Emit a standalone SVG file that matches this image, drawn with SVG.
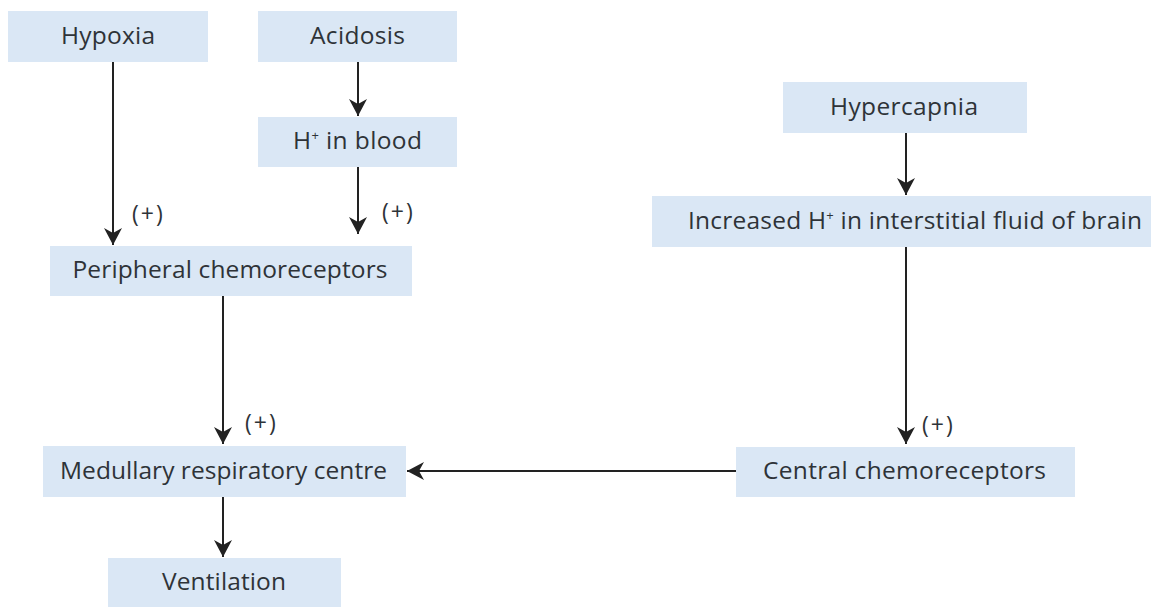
<svg xmlns="http://www.w3.org/2000/svg" width="1151" height="607" viewBox="0 0 1151 607">
  <style>
    .box { fill: #dae7f5; }
    .lbl { font-family: "Open Sans", "Noto Sans", sans-serif; font-size: 24.5px; fill: #2e3338; text-anchor: middle; }
    .sup { font-size: 13px; }
    .sign { font-family: "Open Sans", "Noto Sans", sans-serif; font-size: 23px; fill: #2e3338; letter-spacing: 2px; }
    .edge { stroke: #222; stroke-width: 2; fill: none; marker-end: url(#arrow); }
  </style>
  <defs>
    <marker id="arrow" markerUnits="userSpaceOnUse" markerWidth="18" markerHeight="18" refX="17" refY="9" orient="auto">
      <path d="M0,0 L17,9 L0,18 L5,9 Z" fill="#222"/>
    </marker>
  </defs>

  <rect width="1151" height="607" fill="#ffffff"/>

  <g id="connectors">
    <line class="edge" x1="113" y1="62" x2="113" y2="245"/>
    <line class="edge" x1="358" y1="62" x2="358" y2="116"/>
    <line class="edge" x1="358" y1="167" x2="358" y2="234"/>
    <line class="edge" x1="906" y1="133" x2="906" y2="195"/>
    <line class="edge" x1="906" y1="247" x2="906" y2="444"/>
    <line class="edge" x1="223" y1="296" x2="223" y2="444"/>
    <line class="edge" x1="223" y1="497" x2="223" y2="557"/>
    <line class="edge" x1="736" y1="471" x2="407" y2="471"/>
    <text class="sign" x="132" y="222">(+)</text>
    <text class="sign" x="382" y="220">(+)</text>
    <text class="sign" x="245" y="431">(+)</text>
    <text class="sign" x="922" y="433">(+)</text>
  </g>

  <g id="hypoxia">
    <rect class="box" x="8" y="11" width="200" height="51"/>
    <text class="lbl" x="108" y="44" textLength="94">Hypoxia</text>
  </g>
  <g id="acidosis">
    <rect class="box" x="258" y="11" width="199" height="51"/>
    <text class="lbl" x="357.5" y="44" textLength="95">Acidosis</text>
  </g>
  <g id="h-blood">
    <rect class="box" x="258" y="117" width="199" height="50"/>
    <text class="lbl" x="357.5" y="149" textLength="129">H<tspan class="sup" dy="-9">+</tspan><tspan dy="9"> in blood</tspan></text>
  </g>
  <g id="peripheral">
    <rect class="box" x="50" y="246" width="362" height="50"/>
    <text class="lbl" x="230" y="278" textLength="315">Peripheral chemoreceptors</text>
  </g>
  <g id="hypercapnia">
    <rect class="box" x="783" y="82" width="244" height="51"/>
    <text class="lbl" x="904" y="115" textLength="148">Hypercapnia</text>
  </g>
  <g id="brain-h">
    <rect class="box" x="652" y="196" width="499" height="51"/>
    <text class="lbl" x="915" y="229" textLength="454">Increased H<tspan class="sup" dy="-9">+</tspan><tspan dy="9"> in interstitial fluid of brain</tspan></text>
  </g>
  <g id="central">
    <rect class="box" x="736" y="447" width="339" height="50"/>
    <text class="lbl" x="904.5" y="479" textLength="283">Central chemoreceptors</text>
  </g>
  <g id="medullary">
    <rect class="box" x="43" y="446" width="363" height="51"/>
    <text class="lbl" x="223.5" y="479" textLength="327">Medullary respiratory centre</text>
  </g>
  <g id="ventilation">
    <rect class="box" x="108" y="558" width="233" height="50"/>
    <text class="lbl" x="224" y="590" textLength="124">Ventilation</text>
  </g>
</svg>
